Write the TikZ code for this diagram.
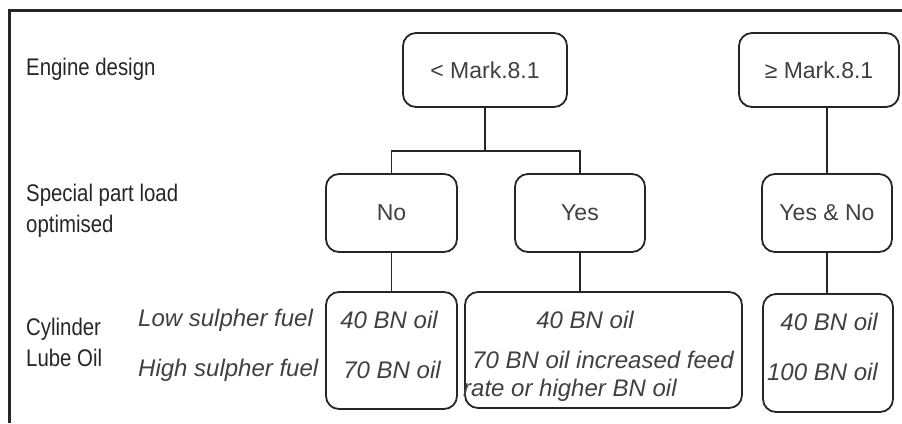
\documentclass[tikz,border=0pt]{standalone}
\usepackage{fontspec}
\setmainfont{Liberation Sans}
\newfontfamily\estreita[FakeStretch=0.85]{Liberation Sans}

\begin{document}
\begin{tikzpicture}[
			x=1pt, y=-1pt,
			caixa/.style={draw=black!85, line width=1.8pt, rounded corners=13pt, inner sep=0pt, text=black!75, font=\fontsize{23}{28}\selectfont},
			rotulo/.style={anchor=west, align=left, inner sep=0pt, text=black!85, font=\estreita\fontsize{24}{31}\selectfont},
			oleo/.style={inner sep=0pt, text=black!75, font=\fontsize{24}{30}\selectfont\itshape},
			linha/.style={draw=black!85, line width=1.8pt}
			]
			\useasboundingbox (0,0) rectangle (902,423);
			\draw[line width=3pt, black!85] (9.5,423) -- (9.5,10.5) -- (902,10.5);
			
			% rotulos da esquerda
			\node[rotulo] (motor) at (26,69) {Engine design};
			\node[rotulo] (carga) at (26,211) {Special part load\\optimised};
			\node[rotulo] (cilindro) at (26,342) {Cylinder\\Lube Oil};
			\node[oleo, anchor=west] (baixo) at (138,320) {Low sulpher fuel};
			\node[oleo, anchor=west] (alto) at (138,370) {High sulpher fuel};
			
			% caixas
			\node[caixa, minimum width=164pt, minimum height=74pt] (menor) at (485,70) {< Mark.8.1};
			\node[caixa, minimum width=160pt, minimum height=74pt] (maior) at (819,70) {≥ Mark.8.1};
			\node[caixa, minimum width=131pt, minimum height=78pt] (nao) at (391.5,213) {No};
			\node[caixa, minimum width=130pt, minimum height=78pt] (sim) at (580,213) {Yes};
			\node[caixa, minimum width=130pt, minimum height=78pt] (simnao) at (827,213) {Yes \& No};
			\node[caixa, minimum width=131pt, minimum height=117pt] (oleonao) at (391.5,350.5) {};
			\node[caixa, minimum width=277pt, minimum height=116pt] (oleosim) at (603.5,350) {};
			\node[caixa, minimum width=130pt, minimum height=118pt] (oleosn) at (828,353) {};
			
			% textos dos oleos
			\node[oleo] (nao40) at (389,320) {40 BN oil};
			\node[oleo] (nao70) at (392,370) {70 BN oil};
			\node[oleo] (sim40) at (585,320) {40 BN oil};
			\node[oleo, anchor=west] (sim70) at (472,360) {70 BN oil increased feed};
			\node[oleo, anchor=west] (simtaxa) at (463,390) {rate or higher BN oil};
			\node[oleo, anchor=east] (sn40) at (878,322) {40 BN oil};
			\node[oleo, anchor=east] (sn100) at (878,372) {100 BN oil};
			
			% ligacoes
			\draw[linha] (menor.south) -- ++(0,43) coordinate (ramo);
			\draw[linha] (nao.north) |- (ramo) -| (sim.north);
			\draw[linha] (simnao.north) -- (simnao.north |- maior.south);
			\draw[linha] (nao.south) -- (oleonao.north);
			\draw[linha] (sim.south) -- (sim.south |- oleosim.north);
			\draw[linha] (simnao.south) -- (simnao.south |- oleosn.north);
		\end{tikzpicture}
\end{document}
